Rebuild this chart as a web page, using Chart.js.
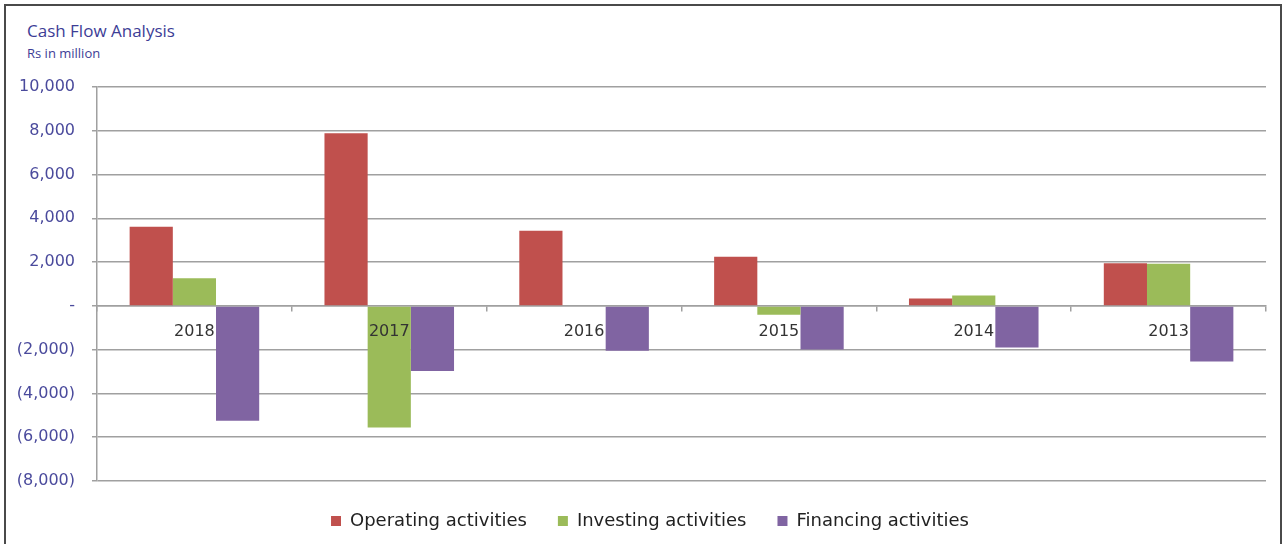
<!DOCTYPE html>
<html>
<head>
<meta charset="utf-8">
<script src="https://cdn.jsdelivr.net/npm/chart.js@4.4.1/dist/chart.umd.min.js"></script>
<style>
    html, body { margin: 0; padding: 0; overflow: hidden; background: #fff; }
    #wrap { position: relative; width: 1286px; height: 544px; overflow: hidden; }
    #frame { position: absolute; left: 4px; top: 4px; width: 1274px; height: 600px; border: 2px solid #4a4a4a; }
    #title { position: absolute; left: 27px; top: 19px; font: 17px "Open Sans", sans-serif; color: #3d3d96; }
    #subtitle { position: absolute; left: 27px; top: 44px; font: 13px "Open Sans", sans-serif; color: #3d3d96; }
    #holder { position: absolute; left: 0; top: 0; width: 1286px; height: 540px; }
</style>
</head>
<body>
<div id="wrap">
    <div id="frame"></div>
    <div id="title">Cash Flow Analysis</div>
    <div id="subtitle">Rs in million</div>
    <div id="holder"><canvas id="cashChart"></canvas></div>
</div>
<script>
const years = ['2018', '2017', '2016', '2015', '2014', '2013'];
const operating = [3620, 7890, 3430, 2250, 340, 1950];
const investing = [1260, -5560, 0, -400, 470, 1920];
const financing = [-5250, -2970, -2050, -1990, -1900, -2540];
const yTicks = [10000, 8000, 6000, 4000, 2000, 0, -2000, -4000, -6000, -8000];

function formatTick(v) {
    if (v === 0) return '-';
    const s = Math.abs(v).toLocaleString('en-US');
    return v < 0 ? '(' + s + ')' : s;
}

// the legend in the original is centred on the whole picture, not on the plot
const legendShift = {
    id: 'legendShift',
    afterLayout(chart) {
        if (chart.legend) chart.legend.left += 34;
    }
};

const ctx = document.getElementById('cashChart').getContext('2d');
new Chart(ctx, {
    type: 'bar',
    data: {
        labels: years,
        datasets: [
            { label: 'Operating activities', data: operating, backgroundColor: '#c0504d' },
            { label: 'Investing activities', data: investing, backgroundColor: '#9bbb59' },
            { label: 'Financing activities', data: financing, backgroundColor: '#8064a2' }
        ]
    },
    options: {
        responsive: true,
        maintainAspectRatio: false,
        animation: false,
        layout: { padding: { top: 87, right: 20, left: 0, bottom: 0 } },
        datasets: {
            bar: { categoryPercentage: 0.665, barPercentage: 1.0, borderWidth: 0 }
        },
        plugins: {
            legend: {
                position: 'bottom',
                labels: {
                    boxWidth: 10,
                    boxHeight: 10,
                    padding: 31,
                    color: '#222',
                    font: { family: 'DejaVu Sans', size: 18 }
                }
            },
            tooltip: { enabled: false }
        },
        scales: {
            x: {
                position: { y: 0 },
                grid: { drawOnChartArea: false, offset: true, tickLength: 5, color: '#a0a0a0', lineWidth: 1.5 },
                border: { color: '#a0a0a0', width: 1.5 },
                ticks: {
                    z: 1,
                    padding: 11,
                    color: '#333',
                    font: { family: 'DejaVu Sans', size: 16 }
                }
            },
            y: {
                min: -8000,
                max: 10000,
                afterBuildTicks: function (scale) {
                    scale.ticks = yTicks.map(v => ({ value: v }));
                },
                afterFit: function (scale) {
                    scale.width = 97;
                },
                grid: { color: '#a0a0a0', lineWidth: 1.5, tickLength: 5 },
                border: { color: '#a0a0a0', width: 1.5 },
                ticks: {
                    padding: 17,
                    color: '#4a4a9c',
                    font: { family: 'DejaVu Sans', size: 16 },
                    callback: function (value) { return formatTick(value); }
                }
            }
        }
    },
    plugins: [legendShift]
});
</script>
</body>
</html>
